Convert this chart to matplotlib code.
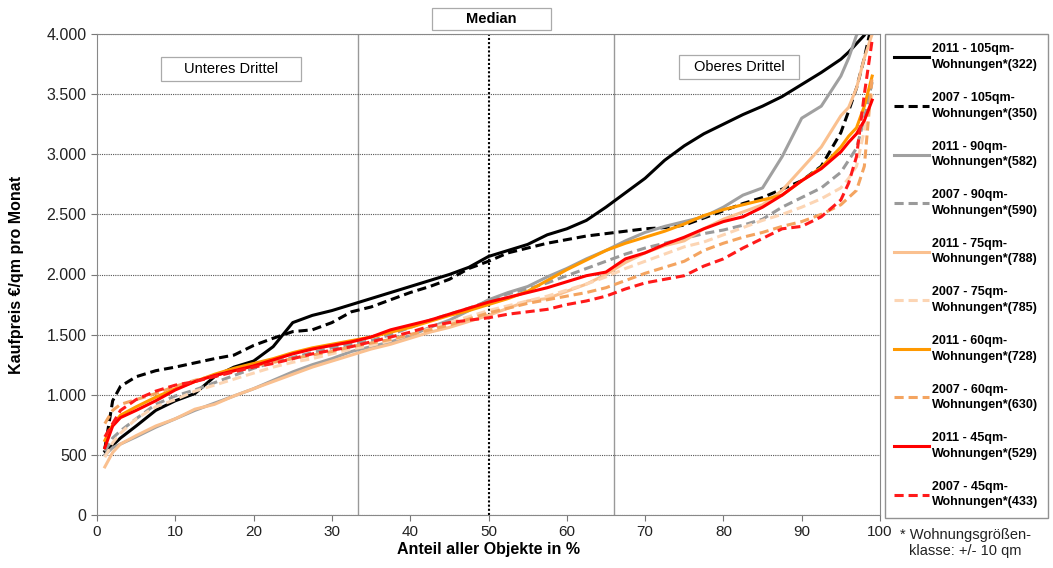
import matplotlib.pyplot as plt
from matplotlib.patches import Rectangle
import numpy as np

plt.rcParams['font.family'] = ['Liberation Sans', 'DejaVu Sans']

# Anteil aller Objekte in % (shared x positions)
xs = [1, 2, 3, 5, 7.5, 10, 12.5, 15, 17.5, 20, 22.5, 25, 27.5, 30, 32.5, 35,
      37.5, 40, 42.5, 45, 47.5, 50, 52.5, 55, 57.5, 60, 62.5, 65, 67.5, 70,
      72.5, 75, 77.5, 80, 82.5, 85, 87.5, 90, 92.5, 95, 96, 97, 98, 99]

y2011_105 = [530, 580, 640, 740, 870, 950, 1010, 1150, 1230, 1280, 1400, 1600, 1660, 1700, 1750, 1800,
             1850, 1900, 1950, 2000, 2060, 2150, 2200, 2250, 2330, 2380, 2450, 2560, 2680, 2800,
             2950, 3070, 3170, 3250, 3330, 3400, 3480, 3580, 3680, 3790, 3850, 3920, 3990, 4100]
y2007_105 = [550, 950, 1070, 1150, 1200, 1230, 1265, 1300, 1330, 1410, 1470, 1525, 1540, 1600, 1690, 1730,
             1790, 1850, 1900, 1960, 2050, 2110, 2180, 2220, 2260, 2290, 2320, 2340, 2360, 2380,
             2390, 2410, 2470, 2530, 2590, 2640, 2710, 2780, 2900, 3180, 3360, 3550, 3800, 4100]
y2011_90 = [500, 560, 590, 650, 730, 800, 870, 930, 990, 1050, 1120, 1190, 1250, 1300, 1360, 1400,
            1440, 1490, 1560, 1620, 1700, 1790, 1850, 1900, 1980, 2050, 2130, 2200, 2280, 2350,
            2400, 2440, 2480, 2560, 2660, 2720, 2980, 3300, 3400, 3650, 3800, 3990, 4100, 4200]
y2007_90 = [530, 640, 700, 800, 920, 990, 1040, 1100, 1160, 1220, 1270, 1310, 1350, 1390, 1420, 1450,
            1500, 1560, 1620, 1670, 1720, 1780, 1840, 1880, 1930, 1990, 2050, 2110, 2170, 2220,
            2260, 2300, 2340, 2370, 2410, 2460, 2560, 2640, 2720, 2850, 2950, 3050, 3300, 3600]
y2011_75 = [400, 520, 590, 660, 740, 800, 880, 920, 990, 1050, 1110, 1170, 1230, 1280, 1330, 1380,
            1420, 1470, 1520, 1560, 1610, 1660, 1720, 1780, 1800, 1860, 1920, 2000, 2100, 2180,
            2240, 2280, 2380, 2460, 2520, 2580, 2700, 2880, 3060, 3320, 3390, 3550, 3800, 4000]
y2007_75 = [480, 600, 680, 800, 900, 960, 1030, 1080, 1130, 1180, 1230, 1270, 1300, 1340, 1380, 1410,
            1450, 1500, 1550, 1600, 1650, 1700, 1740, 1780, 1820, 1870, 1920, 1980, 2050, 2110,
            2170, 2230, 2270, 2330, 2390, 2450, 2500, 2560, 2630, 2720, 2800, 2900, 3200, 3500]
y2011_60 = [620, 750, 830, 900, 980, 1050, 1110, 1170, 1220, 1260, 1300, 1350, 1390, 1420, 1450, 1480,
            1520, 1560, 1610, 1660, 1700, 1750, 1800, 1860, 1950, 2040, 2120, 2200, 2260, 2310,
            2360, 2420, 2490, 2540, 2580, 2620, 2660, 2780, 2890, 3060, 3150, 3220, 3400, 3650]
y2007_60 = [760, 870, 920, 960, 1010, 1070, 1120, 1160, 1200, 1240, 1270, 1300, 1330, 1360, 1400, 1430,
            1460, 1500, 1540, 1580, 1630, 1680, 1720, 1760, 1790, 1820, 1850, 1890, 1950, 2010,
            2060, 2110, 2200, 2260, 2310, 2350, 2400, 2440, 2500, 2580, 2640, 2700, 2900, 3650]
y2011_45 = [560, 740, 810, 870, 950, 1040, 1110, 1160, 1200, 1240, 1290, 1340, 1380, 1410, 1440, 1480,
            1540, 1580, 1620, 1670, 1720, 1770, 1810, 1850, 1890, 1940, 1990, 2020, 2130, 2180,
            2250, 2310, 2380, 2440, 2480, 2560, 2660, 2780, 2880, 3020, 3100, 3170, 3280, 3450]
y2007_45 = [650, 760, 870, 960, 1030, 1080, 1110, 1150, 1190, 1230, 1260, 1300, 1340, 1370, 1400, 1440,
            1480, 1520, 1570, 1600, 1620, 1640, 1670, 1690, 1710, 1750, 1780, 1820, 1880, 1930,
            1960, 1990, 2070, 2130, 2220, 2300, 2380, 2400, 2480, 2620, 2760, 2980, 3500, 3950]

series = [
    ("2011 - 105qm-\nWohnungen*(322)", y2011_105, "#000000", "-"),
    ("2007 - 105qm-\nWohnungen*(350)", y2007_105, "#000000", "--"),
    ("2011 - 90qm-\nWohnungen*(582)", y2011_90, "#a0a0a0", "-"),
    ("2007 - 90qm-\nWohnungen*(590)", y2007_90, "#9a9a9a", "--"),
    ("2011 - 75qm-\nWohnungen*(788)", y2011_75, "#fac08f", "-"),
    ("2007 - 75qm-\nWohnungen*(785)", y2007_75, "#fcd5b4", "--"),
    ("2011 - 60qm-\nWohnungen*(728)", y2011_60, "#ff9900", "-"),
    ("2007 - 60qm-\nWohnungen*(630)", y2007_60, "#f4a460", "--"),
    ("2011 - 45qm-\nWohnungen*(529)", y2011_45, "#ff0000", "-"),
    ("2007 - 45qm-\nWohnungen*(433)", y2007_45, "#ff1a1a", "--"),
]

W, H = 1053, 568
fig = plt.figure(figsize=(W / 100, H / 100), dpi=100)
ax = fig.add_axes([97 / W, 1 - 515 / H, (880 - 97) / W, (515 - 34) / H])

for label, ys, color, ls in series:
    ax.plot(xs, ys, color=color, linestyle=ls, linewidth=2.2, label=label,
            dashes=(3, 1.6) if ls == "--" else (None, None))

ax.set_xlim(0, 100)
ax.set_ylim(0, 4000)
ax.set_xticks(np.arange(0, 101, 10))
ax.set_yticks(np.arange(0, 4001, 500))
ax.set_yticklabels(["0", "500", "1.000", "1.500", "2.000", "2.500", "3.000", "3.500", "4.000"])
ax.yaxis.grid(True, linestyle=(0, (1, 1)), color="#555555", linewidth=0.8)
ax.set_axisbelow(True)
ax.tick_params(axis="y", labelsize=11.5)
ax.tick_params(axis="x", labelsize=11)
ax.tick_params(colors="#222222", direction="out", length=4, color="#777777")
for sp in ax.spines.values():
    sp.set_color("#888888")

ax.axvline(33.3, color="#999999", linewidth=1, zorder=0)
ax.axvline(66, color="#999999", linewidth=1, zorder=0)
ax.axvline(50, color="#000000", linestyle=(0, (1, 1)), linewidth=1.5, zorder=0)


def label_box(x0, y0, x1, y1, text, bold=False):
    fig.patches.append(Rectangle((x0 / W, 1 - y1 / H), (x1 - x0) / W, (y1 - y0) / H,
                                 transform=fig.transFigure, facecolor="white",
                                 edgecolor="#aaaaaa", linewidth=0.9, zorder=5))
    fig.text((x0 + x1) / 2 / W, 1 - (y0 + y1) / 2 / H, text, fontsize=10.5,
             fontweight="bold" if bold else "normal", ha="center", va="center", zorder=6)


label_box(161, 57, 301, 81, "Unteres Drittel")
label_box(679, 55, 799, 79, "Oberes Drittel")
label_box(432, 8, 551, 30, "Median", bold=True)

ax.set_xlabel("Anteil aller Objekte in %", fontsize=11.5, fontweight="bold", labelpad=2)
ax.set_ylabel("Kaufpreis €/qm pro Monat", fontsize=11.5, fontweight="bold", labelpad=16)

leg = fig.legend(loc="upper left", bbox_to_anchor=(885 / W, 1 - 34 / H),
                 prop={"size": 9, "weight": "bold"}, handlelength=2.8, handletextpad=0.2,
                 labelspacing=1.68, borderpad=0.75, borderaxespad=0, fancybox=False,
                 edgecolor="#777777")
leg.get_frame().set_linewidth(1.0)
for t in leg.get_texts():
    t.set_linespacing(1.4)

fig.text(965 / W, 1 - 543 / H, "* Wohnungsgrößen-\nklasse: +/- 10 qm", fontsize=10.5,
         ha="center", va="center", color="#222222", linespacing=1.1)

fig.savefig("out.png", dpi=100)
